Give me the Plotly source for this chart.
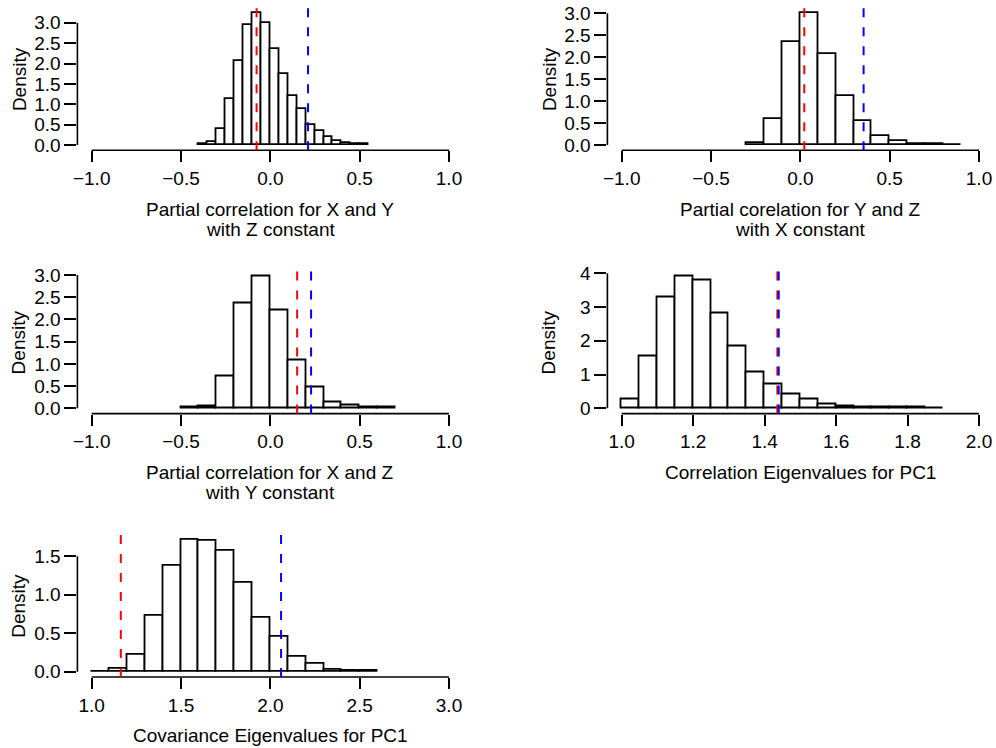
import plotly.graph_objects as go

FONT = "Liberation Sans, Arial, Helvetica, sans-serif"
W, H = 996, 748

# ---------------- data ----------------
p1_edges = [-0.40, -0.35, -0.30, -0.25, -0.20, -0.15, -0.10, -0.05, 0.00, 0.05,
            0.10, 0.15, 0.20, 0.25, 0.30, 0.35, 0.40, 0.45, 0.50, 0.55]
p1_density = [0.02, 0.08, 0.38, 1.13, 2.05, 2.94, 3.23, 3.00, 2.35, 1.73,
              1.21, 0.88, 0.49, 0.33, 0.19, 0.09, 0.05, 0.025, 0.015]
p1_red, p1_blue = -0.077, 0.211
p1_xticks = [-1.0, -0.5, 0.0, 0.5, 1.0]
p1_xticklabels = ["−1.0", "−0.5", "0.0", "0.5", "1.0"]
p1_yticks = [0.0, 0.5, 1.0, 1.5, 2.0, 2.5, 3.0]
p1_yticklabels = ["0.0", "0.5", "1.0", "1.5", "2.0", "2.5", "3.0"]
p1_xlabel = ["Partial correlation for X and Y", "with Z constant"]

p2_edges = [-0.3, -0.2, -0.1, 0.0, 0.1, 0.2, 0.3, 0.4, 0.5, 0.6, 0.7, 0.8, 0.9]
p2_density = [0.04, 0.58, 2.34, 3.00, 2.08, 1.12, 0.55, 0.21, 0.08, 0.03, 0.015, 0.008]
p2_red, p2_blue = 0.022, 0.354
p2_xticks = [-1.0, -0.5, 0.0, 0.5, 1.0]
p2_xticklabels = ["−1.0", "−0.5", "0.0", "0.5", "1.0"]
p2_yticks = [0.0, 0.5, 1.0, 1.5, 2.0, 2.5, 3.0]
p2_yticklabels = ["0.0", "0.5", "1.0", "1.5", "2.0", "2.5", "3.0"]
p2_xlabel = ["Partial corelation for Y and Z", "with X constant"]

p3_edges = [-0.5, -0.4, -0.3, -0.2, -0.1, 0.0, 0.1, 0.2, 0.3, 0.4, 0.5, 0.6, 0.7]
p3_density = [0.015, 0.05, 0.71, 2.37, 2.96, 2.20, 1.08, 0.47, 0.13, 0.06, 0.02, 0.015]
p3_red, p3_blue = 0.150, 0.228
p3_xticks = [-1.0, -0.5, 0.0, 0.5, 1.0]
p3_xticklabels = ["−1.0", "−0.5", "0.0", "0.5", "1.0"]
p3_yticks = [0.0, 0.5, 1.0, 1.5, 2.0, 2.5, 3.0]
p3_yticklabels = ["0.0", "0.5", "1.0", "1.5", "2.0", "2.5", "3.0"]
p3_xlabel = ["Partial correlation for X and Z", "with Y constant"]

p4_edges = [1.00, 1.05, 1.10, 1.15, 1.20, 1.25, 1.30, 1.35, 1.40, 1.45,
            1.50, 1.55, 1.60, 1.65, 1.70, 1.75, 1.80, 1.85, 1.90]
p4_density = [0.27, 1.55, 3.28, 3.90, 3.78, 2.82, 1.82, 1.05, 0.70, 0.40,
              0.26, 0.13, 0.07, 0.04, 0.03, 0.02, 0.015, 0.01]
p4_red, p4_blue = 1.4356, 1.4395
p4_xticks = [1.0, 1.2, 1.4, 1.6, 1.8, 2.0]
p4_xticklabels = ["1.0", "1.2", "1.4", "1.6", "1.8", "2.0"]
p4_yticks = [0, 1, 2, 3, 4]
p4_yticklabels = ["0", "1", "2", "3", "4"]
p4_xlabel = ["Correlation Eigenvalues for PC1"]

p5_edges = [1.0, 1.1, 1.2, 1.3, 1.4, 1.5, 1.6, 1.7, 1.8, 1.9,
            2.0, 2.1, 2.2, 2.3, 2.4, 2.5, 2.6]
p5_density = [0.004, 0.035, 0.22, 0.73, 1.375, 1.71, 1.70, 1.565, 1.16, 0.705,
              0.45, 0.195, 0.108, 0.026, 0.013, 0.008]
p5_red, p5_blue = 1.163, 2.060
p5_xticks = [1.0, 1.5, 2.0, 2.5, 3.0]
p5_xticklabels = ["1.0", "1.5", "2.0", "2.5", "3.0"]
p5_yticks = [0.0, 0.5, 1.0, 1.5]
p5_yticklabels = ["0.0", "0.5", "1.0", "1.5"]
p5_xlabel = ["Covariance Eigenvalues for PC1"]

ylabel = "Density"

# ---------------- layout (pixels) ----------------
COL_LEFT = [77.4, 607.4]
PLOT_W = 385.9
ROW_BOTTOM = [150.3, 413.6, 677.0]
PLOT_H = 142.2
FS = 19
LW = 1.8
AXW = 1.6

panels = [
    (0, 0, p1_edges, p1_density, p1_red, p1_blue, p1_xticks, p1_xticklabels, p1_yticks, p1_yticklabels, p1_xlabel),
    (0, 1, p2_edges, p2_density, p2_red, p2_blue, p2_xticks, p2_xticklabels, p2_yticks, p2_yticklabels, p2_xlabel),
    (1, 0, p3_edges, p3_density, p3_red, p3_blue, p3_xticks, p3_xticklabels, p3_yticks, p3_yticklabels, p3_xlabel),
    (1, 1, p4_edges, p4_density, p4_red, p4_blue, p4_xticks, p4_xticklabels, p4_yticks, p4_yticklabels, p4_xlabel),
    (2, 0, p5_edges, p5_density, p5_red, p5_blue, p5_xticks, p5_xticklabels, p5_yticks, p5_yticklabels, p5_xlabel),
]

fig = go.Figure()
shapes = []
annotations = []
layout_axes = {}

for i, (row, col, edges, dens, red, blue, xt, xtl, yt, ytl, xlab) in enumerate(panels):
    n = i + 1
    sfx = "" if n == 1 else str(n)
    xa, ya = "x" + sfx, "y" + sfx

    left = COL_LEFT[col]
    bottom = ROW_BOTTOM[row]
    top = bottom - PLOT_H
    xdom = [left / W, (left + PLOT_W) / W]
    ydom = [1 - bottom / H, 1 - top / H]

    span = xt[-1] - xt[0]
    xr = [xt[0] - 0.04 * span, xt[-1] + 0.04 * span]
    ymax = max(dens)
    yr = [-0.04 * ymax, 1.04 * ymax]

    centers = [(edges[k] + edges[k + 1]) / 2 for k in range(len(dens))]
    widths = [edges[k + 1] - edges[k] for k in range(len(dens))]

    fig.add_trace(go.Bar(
        x=centers, y=dens, width=widths, xaxis=xa, yaxis=ya,
        marker=dict(color="white", line=dict(color="black", width=LW)),
        showlegend=False, hoverinfo="skip",
    ))

    common = dict(showgrid=False, zeroline=False, showline=False, ticks="outside",
                  ticklen=11, tickwidth=AXW, tickcolor="black", automargin=False,
                  tickfont=dict(family=FONT, size=FS, color="black"),
                  tickmode="array", fixedrange=True)
    layout_axes["xaxis" + sfx] = dict(common, domain=xdom, range=xr, anchor=ya,
                                      tickvals=xt, ticktext=xtl)
    layout_axes["yaxis" + sfx] = dict(common, domain=ydom, range=yr, anchor=xa,
                                      tickvals=yt, ticktext=ytl, ticklen=12)

    # R-style axis lines (from first to last tick)
    shapes.append(dict(type="line", xref=xa, yref=ya + " domain", x0=xt[0], x1=xt[-1],
                       y0=0, y1=0, line=dict(color="black", width=AXW), layer="above"))
    shapes.append(dict(type="line", xref=xa + " domain", yref=ya, x0=0, x1=0,
                       y0=yt[0], y1=yt[-1], line=dict(color="black", width=AXW), layer="above"))
    # reference lines
    shapes.append(dict(type="line", xref=xa, yref=ya + " domain", x0=red, x1=red,
                       y0=0, y1=1, line=dict(color="#FF0000", width=2, dash="9px,10px"), layer="above"))
    shapes.append(dict(type="line", xref=xa, yref=ya + " domain", x0=blue, x1=blue,
                       y0=0, y1=1, line=dict(color="#0000FF", width=2, dash="9px,10px"), layer="above"))

    # axis titles
    cx = left + PLOT_W / 2
    for k, line in enumerate(xlab):
        yy = bottom + 58.7 + 20.5 * k
        annotations.append(dict(text=line, xref="paper", yref="paper", x=cx / W, y=1 - yy / H,
                                xanchor="center", yanchor="middle", showarrow=False,
                                font=dict(family=FONT, size=FS, color="black")))
    annotations.append(dict(text=ylabel, xref="paper", yref="paper",
                            x=(left - 58.5) / W, y=1 - (bottom - PLOT_H / 2) / H,
                            xanchor="center", yanchor="middle", textangle=-90, showarrow=False,
                            font=dict(family=FONT, size=FS, color="black")))

fig.update_layout(
    template="none",
    width=W, height=H, autosize=False,
    margin=dict(l=0, r=0, t=0, b=0, pad=0),
    paper_bgcolor="white", plot_bgcolor="white",
    bargap=0, barmode="overlay",
    shapes=shapes, annotations=annotations,
    font=dict(family=FONT, size=FS, color="black"),
    **layout_axes,
)

fig.write_html("out.html")
